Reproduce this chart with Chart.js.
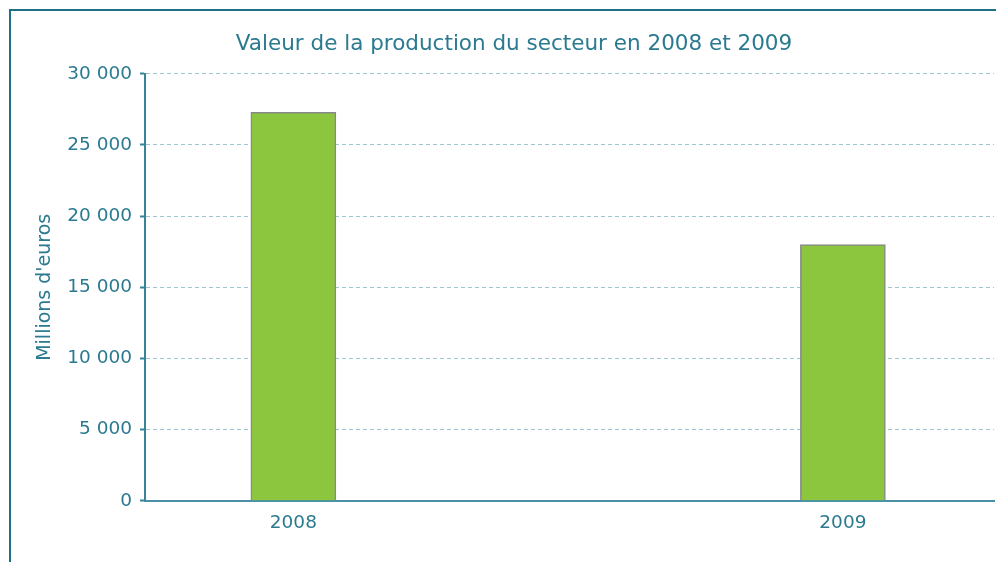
<!DOCTYPE html>
<html>
<head>
<meta charset="utf-8">
<script src="https://cdn.jsdelivr.net/npm/chart.js@4"></script>
<style>
  body { margin: 0; background: #fff; }
  #wrap { position: absolute; left: 0; top: 0; width: 996px; height: 562px; }
  #frame { position: absolute; left: 9px; top: 9px; width: 1000px; height: 600px;
           border-left: 2px solid #1f6f87; border-top: 2px solid #1f6f87; pointer-events: none; }
</style>
</head>
<body>
<div id="wrap"><canvas id="production"></canvas></div>
<div id="frame"></div>
<script>
// valeurs
const annees = ["2008", "2009"];
const valeurs = [27300, 18000];
const yTicks = [0, 5000, 10000, 15000, 20000, 25000, 30000];

const teal = "#2b7a90";
const fmt = v => String(v).replace(/\B(?=(\d{3})+(?!\d))/g, " ");

new Chart(document.getElementById("production"), {
    type: 'bar',
    data: {
        datasets: [{
            label: "Valeur de la production",
            data: annees.map((a, i) => ({x: Number(a), y: valeurs[i]})),
            backgroundColor: "#8cc63f",
            borderColor: "#888888",
            borderWidth: 1.5,
            barThickness: 85
        }]
    },
    options: {
        responsive: true,
        maintainAspectRatio: false,
        animation: false,
        layout: { padding: { left: 34, right: 2, top: 0, bottom: 25 } },
        plugins: {
            legend: { display: false },
            tooltip: { enabled: false },
            title: {
                display: true,
                text: 'Valeur de la production du secteur en 2008 et 2009',
                color: teal,
                font: { family: "DejaVu Sans", size: 21.5, weight: 'normal' },
                padding: { top: 32, bottom: 16 }
            }
        },
        scales: {
            x: {
                type: 'linear',
                offset: false,
                min: 2007.73,
                max: 2009.275,
                afterBuildTicks: s => { s.ticks = annees.map(a => ({value: Number(a)})); },
                grid: { display: false },
                border: { display: true, color: "#4a90a6", width: 2 },
                ticks: {
                    color: teal,
                    font: { family: "DejaVu Sans", size: 18.5 },
                    padding: 3,
                    callback: v => String(v)
                }
            },
            y: {
                min: 0,
                max: 30000,
                afterBuildTicks: s => { s.ticks = yTicks.map(v => ({value: v})); },
                afterFit: s => { s.width = 111; },
                grid: {
                    color: "#9cc5d2",
                    lineWidth: 1,
                    drawTicks: true,
                    tickLength: 5,
                    tickColor: "#3a8299",
                    tickWidth: 2
                },
                border: { display: true, color: "#3a8299", width: 2, dash: [4, 3] },
                ticks: {
                    color: teal,
                    font: { family: "DejaVu Sans", size: 18.5 },
                    padding: 8,
                    callback: v => fmt(v)
                },
                title: {
                    display: true,
                    text: "Millions d'euros",
                    color: teal,
                    font: { family: "DejaVu Sans", size: 19 },
                    padding: 0
                }
            }
        }
    }
});
</script>
</body>
</html>
